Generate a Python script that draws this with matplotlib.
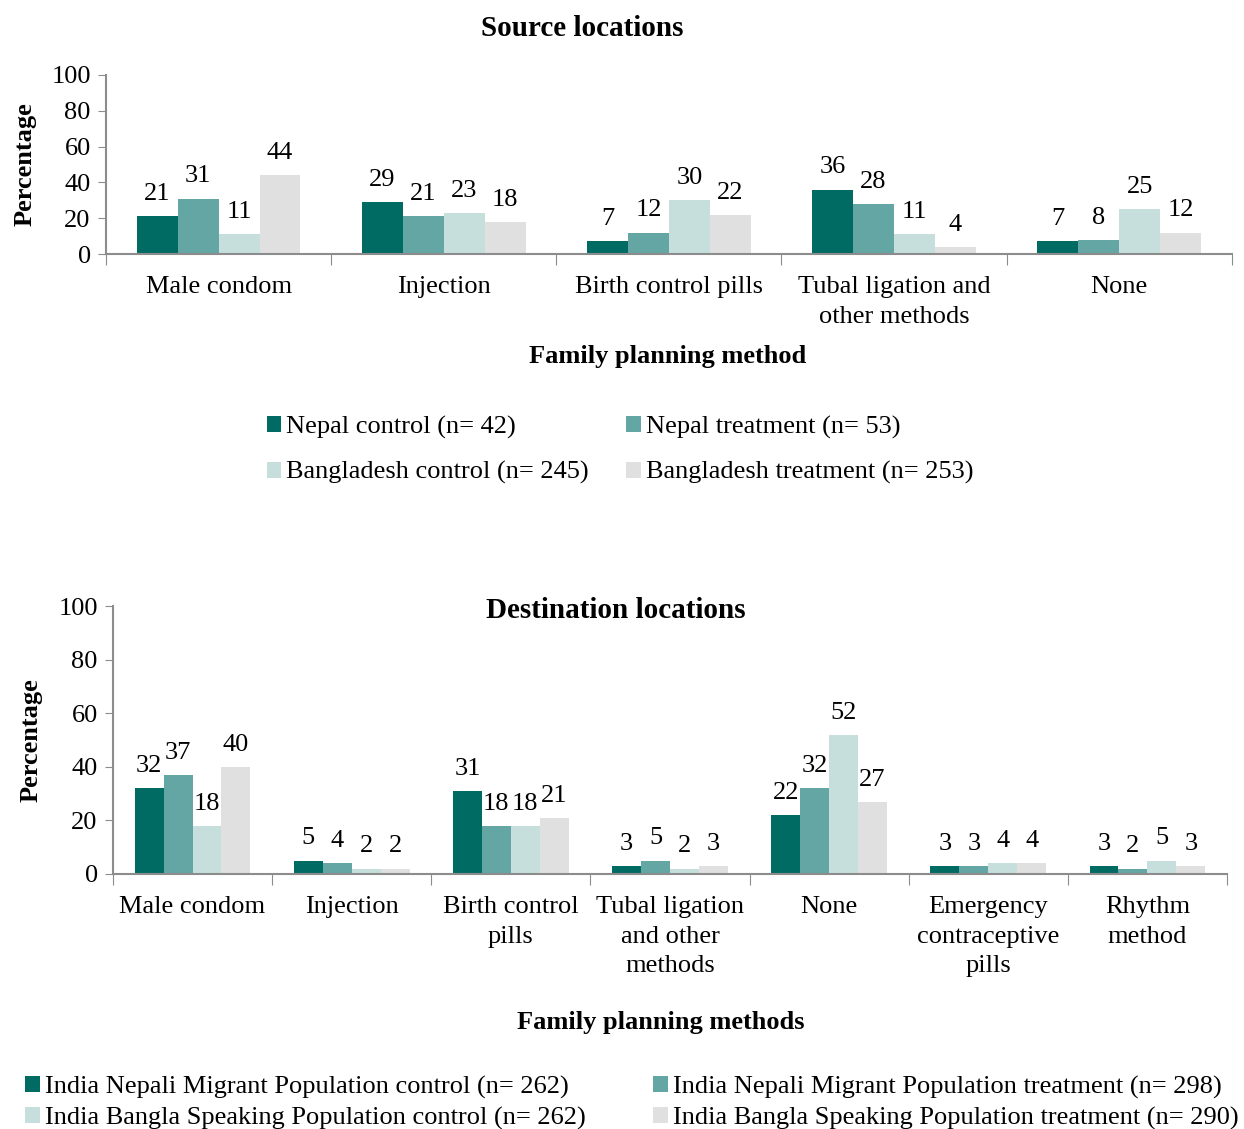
import matplotlib.pyplot as plt
import numpy as np

plt.rcParams['font.family'] = ['Liberation Serif', 'DejaVu Serif']

# top chart data
src_methods = ["Male condom", "Injection", "Birth control pills",
               "Tubal ligation and\nother methods", "None"]
src_groups = ["Nepal control (n= 42)", "Nepal treatment (n= 53)",
              "Bangladesh control (n= 245)", "Bangladesh treatment (n= 253)"]
nepal_control = [21, 29, 7, 36, 7]
nepal_treatment = [31, 21, 12, 28, 8]
bangla_control = [11, 23, 30, 11, 25]
bangla_treatment = [44, 18, 22, 4, 12]

# bottom chart data
dst_methods = ["Male condom", "Injection", "Birth control\npills",
               "Tubal ligation\nand other\nmethods", "None",
               "Emergency\ncontraceptive\npills", "Rhythm\nmethod"]
dst_groups = ["India Nepali Migrant Population control (n= 262)",
              "India Nepali Migrant Population treatment (n= 298)",
              "India Bangla Speaking Population control (n= 262)",
              "India Bangla Speaking Population treatment (n= 290)"]
inm_control = [32, 5, 31, 3, 22, 3, 3]
inm_treatment = [37, 4, 18, 5, 32, 3, 2]
ibs_control = [18, 2, 18, 2, 52, 4, 5]
ibs_treatment = [40, 2, 21, 3, 27, 4, 3]

colors = ["#006B63", "#63A6A3", "#C6DFDC", "#E0E0E0"]
axis_col = "#8C8C8C"
fs = 19
tfs = 21


def draw_bars(ax, methods, series, labels):
    n = len(methods)
    x = np.arange(n)
    w = 1 / 5.5
    for i, vals in enumerate(series):
        pos = x + (i - 1.5) * w
        ax.bar(pos, vals, w, color=colors[i], label=labels[i])
        for p, v in zip(pos, vals):
            ax.annotate(str(v), (p, v), xytext=(0, 8), textcoords="offset points",
                        ha="center", va="bottom", fontsize=fs)
    ax.set_xlim(-0.5, n - 0.5)
    ax.set_ylim(0, 100)
    ax.set_yticks(range(0, 101, 20))
    ax.set_xticks(np.arange(n + 1) - 0.5)
    ax.set_xticklabels([])
    ax.set_xticks(x, minor=True)
    ax.set_xticklabels(methods, minor=True, fontsize=fs, linespacing=1.45)
    ax.tick_params(axis="x", which="minor", length=0, pad=16)
    ax.tick_params(axis="x", which="major", length=8, color=axis_col)
    ax.tick_params(axis="y", length=6, color=axis_col, labelsize=fs, pad=5)
    for s in ["top", "right"]:
        ax.spines[s].set_visible(False)
    for s in ["left", "bottom"]:
        ax.spines[s].set_color(axis_col)
        ax.spines[s].set_linewidth(1.5)
    ax.set_ylabel("Percentage", fontsize=fs, fontweight="bold")


def row_order(ax):
    # legend fills column by column, so reorder to read row by row
    h = ax.containers
    return [h[0], h[2], h[1], h[3]]


fig = plt.figure(figsize=(12.44, 11.29), dpi=100)

ax1 = fig.add_axes([0.0852, 0.775, 0.905, 0.1586])
draw_bars(ax1, src_methods,
          [nepal_control, nepal_treatment, bangla_control, bangla_treatment],
          src_groups)
ax1.yaxis.set_label_coords(-0.062, 0.5)
fig.text(582 / 1244, 1 - 28 / 1129, "Source locations", ha="center", va="center",
         fontsize=tfs, fontweight="bold")
fig.text(668 / 1244, 1 - 356 / 1129, "Family planning method", ha="center",
         va="center", fontsize=fs, fontweight="bold")
h1 = row_order(ax1)
fig.legend(handles=h1, labels=[c.get_label() for c in h1], ncol=2,
           loc="center", bbox_to_anchor=(620 / 1244, 1 - 450 / 1129),
           frameon=False, fontsize=fs, handlelength=0.55, handleheight=0.55,
           handletextpad=0.2, columnspacing=1.4, labelspacing=0.85)

ax2 = fig.add_axes([0.0908, 0.2259, 0.8955, 0.2373])
draw_bars(ax2, dst_methods,
          [inm_control, inm_treatment, ibs_control, ibs_treatment],
          dst_groups)
ax2.yaxis.set_label_coords(-0.063, 0.5)
fig.text(616 / 1244, 1 - 611 / 1129, "Destination locations", ha="center",
         va="center", fontsize=tfs, fontweight="bold")
fig.text(661 / 1244, 1 - 1022 / 1129, "Family planning methods", ha="center",
         va="center", fontsize=fs, fontweight="bold")
h2 = row_order(ax2)
fig.legend(handles=h2, labels=[c.get_label() for c in h2], ncol=2,
           loc="center", bbox_to_anchor=(632 / 1244, 1 - 1103 / 1129),
           frameon=False, fontsize=fs, handlelength=0.55, handleheight=0.55,
           handletextpad=0.2, columnspacing=2.55, labelspacing=0.3)

fig.savefig("out.png", dpi=100)
